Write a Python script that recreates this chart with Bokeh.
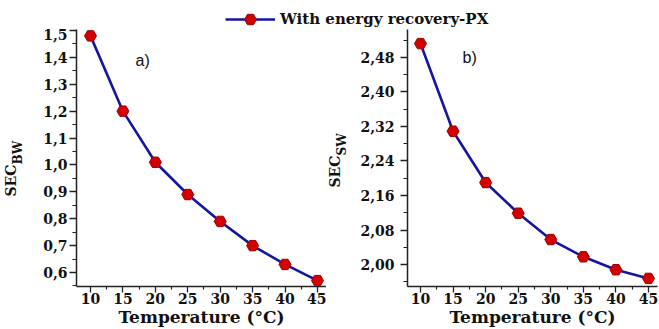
from math import pi

from bokeh.embed import file_html
from bokeh.layouts import column, row
from bokeh.models import FixedTicker, Label, Legend, LegendItem, Range1d
from bokeh.plotting import figure
from bokeh.resources import INLINE

# ---------------- data ----------------
temperature = [10, 15, 20, 25, 30, 35, 40, 45]
sec_bw = [1.48, 1.20, 1.01, 0.89, 0.79, 0.70, 0.63, 0.57]
sec_sw = [2.512, 2.309, 2.190, 2.119, 2.058, 2.018, 1.988, 1.968]

x_ticks = [10, 15, 20, 25, 30, 35, 40, 45]
x_minor_ticks = [12.5, 17.5, 22.5, 27.5, 32.5, 37.5, 42.5]
x_tick_labels = ["10", "15", "20", "25", "30", "35", "40", "45"]

bw_ticks = [0.6, 0.7, 0.8, 0.9, 1.0, 1.1, 1.2, 1.3, 1.4, 1.5]
bw_minor_ticks = [0.55, 0.65, 0.75, 0.85, 0.95, 1.05, 1.15, 1.25, 1.35, 1.45]
bw_tick_labels = ["0,6", "0,7", "0,8", "0,9", "1,0", "1,1", "1,2", "1,3", "1,4", "1,5"]

sw_ticks = [2.00, 2.08, 2.16, 2.24, 2.32, 2.40, 2.48]
sw_minor_ticks = [1.96, 2.04, 2.12, 2.20, 2.28, 2.36, 2.44, 2.52]
sw_tick_labels = ["2,00", "2,08", "2,16", "2,24", "2,32", "2,40", "2,48"]

legend_label = "With energy recovery-PX"
x_title = "Temperature (°C)"
y_title_main = "SEC"
bw_subscript = "BW"
sw_subscript = "SW"

# ---------------- style ----------------
FONT = "DejaVu Serif"
LINE_COLOR = "#1515a0"
MARKER_FILL = "#d40000"
MARKER_LINE = "#9a0000"
AXIS_COLOR = "#222222"
TEXT_COLOR = "#111111"
ROW_H = 301


def style_axis(ax, tick_out, minor_out, standoff):
    ax.axis_line_color = AXIS_COLOR
    ax.axis_line_width = 1.5
    ax.major_tick_line_color = AXIS_COLOR
    ax.major_tick_line_width = 1.3
    ax.minor_tick_line_color = AXIS_COLOR
    ax.minor_tick_line_width = 1.2
    ax.major_tick_in = 0
    ax.major_tick_out = tick_out
    ax.minor_tick_in = 0
    ax.minor_tick_out = minor_out
    ax.major_label_standoff = standoff
    ax.major_label_text_font = FONT
    ax.major_label_text_font_style = "bold"
    ax.major_label_text_font_size = "14px"
    ax.major_label_text_color = TEXT_COLOR


def blank_strip(width, height):
    s = figure(width=width, height=height, toolbar_location=None, output_backend="svg",
               x_range=Range1d(0, 1), y_range=Range1d(0, 1),
               min_border=0, x_axis_location=None, y_axis_location=None)
    s.outline_line_color = None
    s.xgrid.visible = False
    s.ygrid.visible = False
    return s


def y_title_strip(width, sec_x, sec_y, sub_text, sub_x, sub_y):
    s = blank_strip(width, ROW_H)
    s.add_layout(Label(x=sec_x, y=sec_y, x_units="screen", y_units="screen",
                       text=y_title_main, angle=pi / 2, text_font=FONT,
                       text_font_style="bold", text_font_size="14px", text_color=TEXT_COLOR,
                       text_align="left", text_baseline="middle"))
    s.add_layout(Label(x=sub_x, y=sub_y, x_units="screen", y_units="screen",
                       text=sub_text, angle=pi / 2, text_font=FONT,
                       text_font_style="bold", text_font_size="12px", text_color=TEXT_COLOR,
                       text_align="left", text_baseline="middle"))
    return s


def make_panel(width, border_left, border_right, x_range, y_range, values,
               y_ticks, y_minor, y_labels, y_standoff, tag, tag_x, tag_y):
    p = figure(width=width, height=ROW_H, toolbar_location=None, output_backend="svg",
               x_range=x_range, y_range=y_range,
               min_border_left=border_left, min_border_right=border_right,
               min_border_top=1, min_border_bottom=42)
    p.outline_line_color = None
    p.xgrid.visible = False
    p.ygrid.visible = False

    p.xaxis.ticker = FixedTicker(ticks=x_ticks, minor_ticks=x_minor_ticks)
    p.xaxis.major_label_overrides = dict(zip(x_ticks, x_tick_labels))
    p.yaxis.ticker = FixedTicker(ticks=y_ticks, minor_ticks=y_minor)
    p.yaxis.major_label_overrides = dict(zip(y_ticks, y_labels))
    style_axis(p.xaxis[0], 6, 3, 0)
    style_axis(p.yaxis[0], 7, 4, y_standoff)

    xa = p.xaxis[0]
    xa.axis_label = x_title
    xa.axis_label_standoff = 0
    xa.axis_label_text_font = FONT
    xa.axis_label_text_font_style = "bold"
    xa.axis_label_text_font_size = "17px"
    xa.axis_label_text_color = TEXT_COLOR

    p.line(temperature, values, line_color=LINE_COLOR, line_width=2.6)
    p.scatter(temperature, values, marker="hex", size=12,
              fill_color=MARKER_FILL, line_color=MARKER_LINE, line_width=1)

    p.add_layout(Label(x=tag_x, y=tag_y, text=tag, text_font="Liberation Sans",
                       text_font_size="16px", text_color=TEXT_COLOR,
                       text_align="left", text_baseline="middle"))
    return p


t1 = y_title_strip(24, 10.5, 90, bw_subscript, 17, 122)
p1 = make_panel(302, 52, 0, Range1d(7.84, 46.39), Range1d(0.548, 1.5037), sec_bw,
                bw_ticks, bw_minor_ticks, bw_tick_labels, 2, "a)", 16.94, 1.389)
t2 = y_title_strip(24, 8.5, 99, sw_subscript, 15, 131)
p2 = make_panel(309, 57, 2, Range1d(8.004, 46.38), Range1d(1.9492, 2.5446), sec_sw,
                sw_ticks, sw_minor_ticks, sw_tick_labels, 6, "b)", 16.45, 2.48)

# ---------------- legend header ----------------
header = blank_strip(659, 28)
# renderers only used for the legend glyph (their data lie outside this strip's ranges)
lr = header.line(temperature, sec_bw, line_color=LINE_COLOR, line_width=2.6)
sr = header.scatter(temperature, sec_bw, marker="hex", size=12, fill_color=MARKER_FILL,
                    line_color=MARKER_LINE, line_width=1)
legend = Legend(items=[LegendItem(label=legend_label, renderers=[lr, sr])],
                location=(225, -5.5), orientation="horizontal",
                glyph_width=50, glyph_height=30, label_standoff=5, label_height=16,
                padding=0, margin=0, spacing=0,
                border_line_alpha=0, background_fill_alpha=0,
                label_text_font=FONT, label_text_font_style="bold",
                label_text_font_size="15px", label_text_color=TEXT_COLOR)
header.add_layout(legend)

layout = column(header, row(t1, p1, t2, p2))
open("out.html", "w").write(file_html(layout, INLINE))
